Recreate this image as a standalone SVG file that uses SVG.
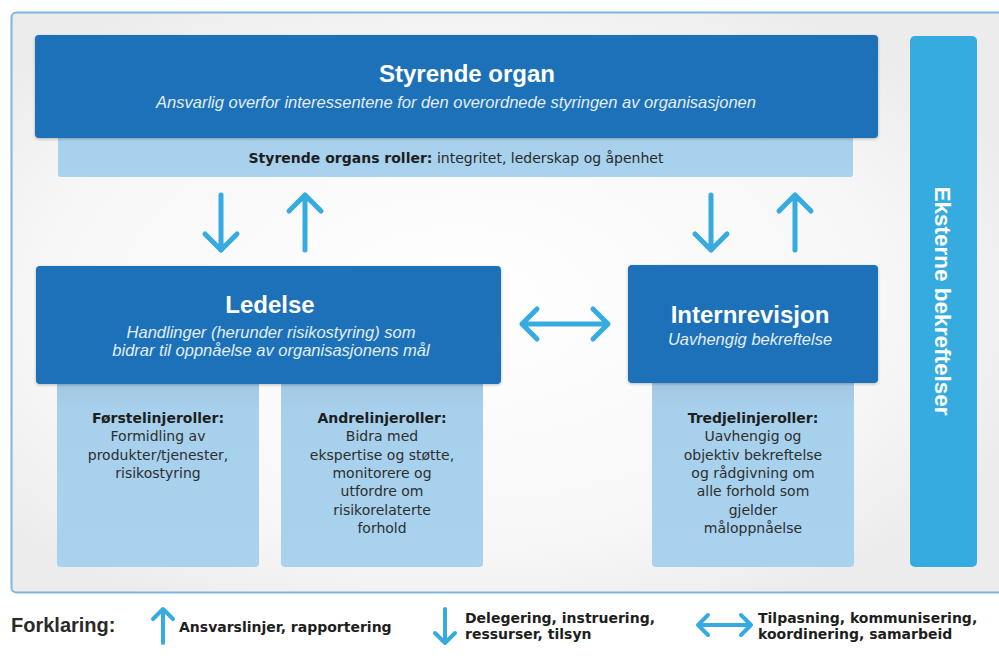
<svg xmlns="http://www.w3.org/2000/svg" width="999" height="661" viewBox="0 0 999 661">
<defs>
<radialGradient id="bg" cx="0.45" cy="0.5" r="0.6">
<stop offset="0" stop-color="#ffffff"/>
<stop offset="0.7" stop-color="#f7f7f7"/>
<stop offset="1" stop-color="#ececec"/>
</radialGradient>
<linearGradient id="sub" x1="0" y1="0" x2="0" y2="1">
<stop offset="0" stop-color="#9ec4df"/>
<stop offset="0.2" stop-color="#a6d0ec"/>
<stop offset="1" stop-color="#a8d2ee"/>
</linearGradient>
<filter id="sh" x="-5%" y="-5%" width="110%" height="120%">
<feDropShadow dx="0" dy="1" stdDeviation="1.5" flood-color="#000" flood-opacity="0.25"/>
</filter>
</defs>
<style>
.dark{fill:#1a71b8;filter:url(#sh)}
.light{fill:url(#sub)}
.t{font-family:"Liberation Sans",Arial,sans-serif;text-anchor:middle}
.title{font-size:24px;font-weight:bold;fill:#ffffff}
.subt{font-size:16.5px;font-style:italic;fill:#e3eef8}
.role{font-family:"DejaVu Sans",Verdana,sans-serif;font-size:14px;fill:#2e2e2e}
.roleb{font-weight:bold;fill:#1e1e1e}
.arr{fill:none;stroke:#35abdf;stroke-width:5;stroke-linecap:round;stroke-linejoin:round}
.arrs{fill:none;stroke:#35abdf;stroke-width:4;stroke-linecap:round;stroke-linejoin:round}
.leg{font-family:"DejaVu Sans",Verdana,sans-serif;font-size:14px;font-weight:bold;fill:#1e1e1e}
</style>
<rect width="999" height="661" fill="#ffffff"/>
<rect x="11.5" y="12.5" width="1000" height="580" rx="5" fill="url(#bg)" stroke="#7db6e2" stroke-width="2"/>

<g id="styrende-organ">
<rect x="58" y="130" width="795" height="47" rx="3" class="light"/>
<rect x="35" y="35" width="843" height="103" rx="4" class="dark"/>
<text class="t title" x="467" y="82">Styrende organ</text>
<text class="t subt" x="456" y="108">Ansvarlig overfor interessentene for den overordnede styringen av organisasjonen</text>
<text class="t role" x="456" y="163" style="fill:#2a2a2a"><tspan font-weight="bold" fill="#1e1e1e">Styrende organs roller:</tspan> integritet, lederskap og åpenhet</text>
</g>

<g id="eksterne-bekreftelser">
<rect x="910" y="36" width="67" height="531" rx="5" fill="#36abdf"/>
<text class="t" transform="translate(943,301) rotate(90)" x="0" y="8" style="font-size:22.5px;font-weight:bold;fill:#ffffff">Eksterne bekreftelser</text>
</g>

<g id="forstelinje">
<rect x="57" y="370" width="202" height="197" rx="4" class="light"/>
<text class="t role" x="158"><tspan x="158" y="423" class="roleb">Førstelinjeroller:</tspan><tspan x="158" y="441">Formidling av</tspan><tspan x="158" y="459.5">produkter/tjenester,</tspan><tspan x="158" y="478">risikostyring</tspan></text>
</g>

<g id="andrelinje">
<rect x="281" y="370" width="202" height="197" rx="4" class="light"/>
<text class="t role" x="382"><tspan x="382" y="423" class="roleb">Andrelinjeroller:</tspan><tspan x="382" y="441">Bidra med</tspan><tspan x="382" y="459.5">ekspertise og støtte,</tspan><tspan x="382" y="478">monitorere og</tspan><tspan x="382" y="496">utfordre om</tspan><tspan x="382" y="514.5">risikorelaterte</tspan><tspan x="382" y="533">forhold</tspan></text>
</g>

<g id="tredjelinje">
<rect x="652" y="370" width="202" height="197" rx="4" class="light"/>
<text class="t role" x="753"><tspan x="753" y="423" class="roleb">Tredjelinjeroller:</tspan><tspan x="753" y="441">Uavhengig og</tspan><tspan x="753" y="459.5">objektiv bekreftelse</tspan><tspan x="753" y="478">og rådgivning om</tspan><tspan x="753" y="496">alle forhold som</tspan><tspan x="753" y="514.5">gjelder</tspan><tspan x="753" y="533">måloppnåelse</tspan></text>
</g>

<g id="ledelse">
<rect x="36" y="266" width="465" height="118" rx="4" class="dark"/>
<text class="t title" x="270" y="313">Ledelse</text>
<text class="t subt" x="271" y="338">Handlinger (herunder risikostyring) som</text>
<text class="t subt" x="271" y="356">bidrar til oppnåelse av organisasjonens mål</text>
</g>

<g id="internrevisjon">
<rect x="628" y="265" width="250" height="118" rx="4" class="dark"/>
<text class="t title" x="750" y="323">Internrevisjon</text>
<text class="t subt" x="750" y="345">Uavhengig bekreftelse</text>
</g>

<g id="connectors">
<path class="arr" d="M221 195 V250 M205 234 L221 250 L237 234"/>
<path class="arr" d="M305 250 V195 M289 211 L305 195 L321 211"/>
<path class="arr" d="M711 195 V250 M695 234 L711 250 L727 234"/>
<path class="arr" d="M795 250 V195 M779 211 L795 195 L811 211"/>
<path class="arr" d="M522 324 H608 M537 309 L522 324 L537 339 M593 309 L608 324 L593 339"/>
</g>

<g id="legend">
<text x="11" y="632" style="font-family:'Liberation Sans',Arial,sans-serif;font-size:20px;font-weight:bold;fill:#2a2a2a">Forklaring:</text>
<path class="arrs" d="M163 643 V609 M153 619 L163 609 L173 619"/>
<text class="leg" x="179" y="632">Ansvarslinjer, rapportering</text>
<path class="arrs" d="M445 609 V643 M435 633 L445 643 L455 633"/>
<text class="leg" x="465" y="623">Delegering, instruering,</text>
<text class="leg" x="465" y="639">ressurser, tilsyn</text>
<path class="arrs" d="M698 625 H751 M708 615 L698 625 L708 635 M741 615 L751 625 L741 635"/>
<text class="leg" x="758" y="623">Tilpasning, kommunisering,</text>
<text class="leg" x="758" y="639">koordinering, samarbeid</text>
</g>
</svg>
